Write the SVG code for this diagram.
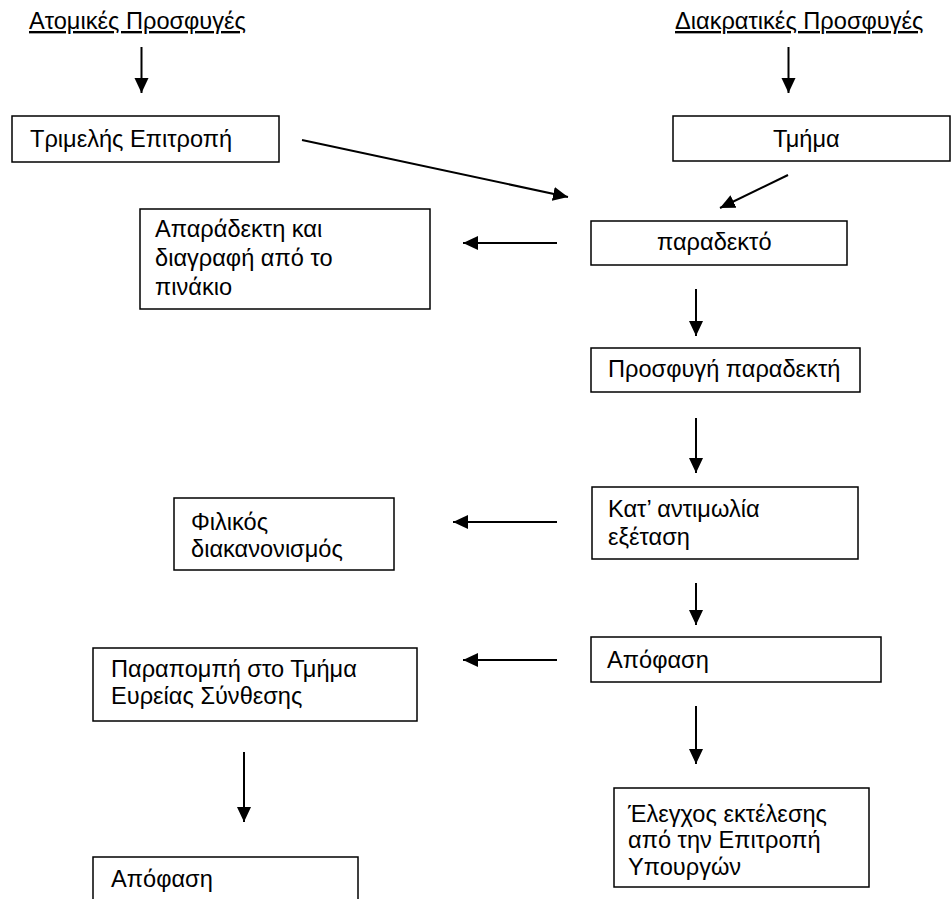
<svg xmlns="http://www.w3.org/2000/svg" width="952" height="899" viewBox="0 0 952 899">
<defs>
<style>
.box{fill:#fff;stroke:#000;stroke-width:1.5}
.t{font-family:"Liberation Sans",Arial,sans-serif;font-size:23.6px;fill:#000}
.h{font-family:"Liberation Sans",Arial,sans-serif;font-size:23.6px;fill:#000;text-decoration:underline}
.c{fill:none;stroke:#000;stroke-width:2;marker-end:url(#ah)}
</style>
<marker id="ah" markerUnits="userSpaceOnUse" markerWidth="16" markerHeight="15" refX="15" refY="7" orient="auto">
<path d="M0,0 L15,7 L0,14 z" fill="#000"/>
</marker>
</defs>
<rect width="952" height="899" fill="#fff"/>
<g id="head-atomikes"><text class="h" x="29" y="29">Ατομικές Προσφυγές</text></g>
<g id="head-diakratikes"><text class="h" x="675" y="29">Διακρατικές Προσφυγές</text></g>
<g id="n-trimelis"><rect class="box" x="12" y="116" width="267" height="46"/><text class="t" x="30" y="147">Τριμελής Επιτροπή</text></g>
<g id="n-tmima"><rect class="box" x="673" y="116" width="277" height="45"/><text class="t" x="773" y="147">Τμήμα</text></g>
<g id="n-aparadekti"><rect class="box" x="140" y="209" width="290" height="100"/><text class="t" x="155" y="237"><tspan x="155">Απαράδεκτη και</tspan><tspan x="155" dy="29">διαγραφή από το</tspan><tspan x="155" dy="29">πινάκιο</tspan></text></g>
<g id="n-paradekto"><rect class="box" x="591" y="221" width="256" height="44"/><text class="t" x="657" y="250">παραδεκτό</text></g>
<g id="n-prosfygi"><rect class="box" x="591" y="348" width="269" height="44"/><text class="t" x="608" y="377">Προσφυγή παραδεκτή</text></g>
<g id="n-filikos"><rect class="box" x="174" y="498" width="220" height="72"/><text class="t"><tspan x="191" y="530">Φιλικός</tspan><tspan x="191" y="557">διακανονισμός</tspan></text></g>
<g id="n-katantimolia"><rect class="box" x="592" y="487" width="266" height="72"/><text class="t"><tspan x="608" y="517">Κατ’ αντιμωλία</tspan><tspan x="608" y="545">εξέταση</tspan></text></g>
<g id="n-parapompi"><rect class="box" x="93" y="648" width="324" height="73"/><text class="t"><tspan x="111" y="677">Παραπομπή στο Τμήμα</tspan><tspan x="111" y="704">Ευρείας Σύνθεσης</tspan></text></g>
<g id="n-apofasi"><rect class="box" x="591" y="637" width="290" height="45"/><text class="t" x="607" y="668">Απόφαση</text></g>
<g id="n-elegxos"><rect class="box" x="614" y="788" width="255" height="99"/><text class="t"><tspan x="628" y="822">Έλεγχος εκτέλεσης</tspan><tspan x="628" y="848">από την Επιτροπή</tspan><tspan x="628" y="875">Υπουργών</tspan></text></g>
<g id="n-apofasi2"><rect class="box" x="93" y="857" width="265" height="60"/><text class="t" x="111" y="887">Απόφαση</text></g>
<g id="connectors">
<line class="c" x1="141.5" y1="47" x2="141.5" y2="93"/>
<line class="c" x1="788.5" y1="47" x2="788.5" y2="93"/>
<line class="c" x1="302" y1="140" x2="568" y2="197"/>
<line class="c" x1="788" y1="175" x2="720" y2="208"/>
<line class="c" x1="557" y1="243" x2="463" y2="243"/>
<line class="c" x1="696" y1="289" x2="696" y2="336"/>
<line class="c" x1="696" y1="418" x2="696" y2="473"/>
<line class="c" x1="557" y1="522" x2="453" y2="522"/>
<line class="c" x1="696" y1="583" x2="696" y2="625"/>
<line class="c" x1="557" y1="660" x2="463" y2="660"/>
<line class="c" x1="696" y1="706" x2="696" y2="764"/>
<line class="c" x1="244" y1="752" x2="244" y2="822"/>
</g>
</svg>
